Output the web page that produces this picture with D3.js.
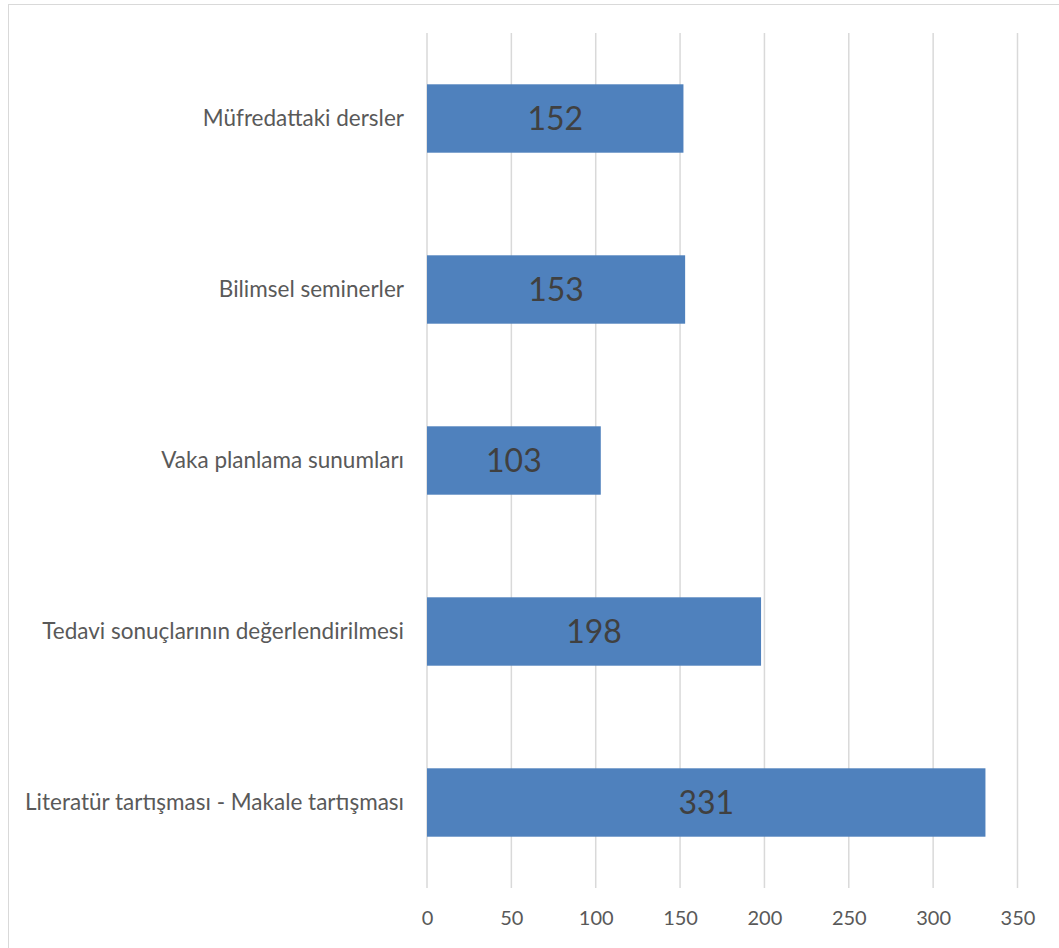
<!DOCTYPE html>
<html>
<head>
<meta charset="utf-8">
<script src="https://cdn.jsdelivr.net/npm/d3@7"></script>
<style>
  body { margin: 0; background: #fff; }
  text { font-family: Lato, "Open Sans", sans-serif; }
</style>
</head>
<body>
<div id="chart"></div>
<script>
    // data
    const categories = [
        "Müfredattaki dersler",
        "Bilimsel seminerler",
        "Vaka planlama sunumları",
        "Tedavi sonuçlarının değerlendirilmesi",
        "Literatür tartışması - Makale tartışması"
    ];
    const values = [152, 153, 103, 198, 331];
    const xTicks = [0, 50, 100, 150, 200, 250, 300, 350];

    const data = categories.map((c, i) => ({ cat: c, v: values[i] }));

    const W = 1059, H = 948;
    const plot = { left: 427, right: 1017.5, top: 33, bottom: 888 };

    const svg = d3.select("#chart").append("svg")
        .attr("width", W)
        .attr("height", H);

    // outer chart frame
    svg.append("rect")
        .attr("x", 8.5).attr("y", 4.5)
        .attr("width", W + 10).attr("height", H + 10)
        .attr("fill", "none")
        .attr("stroke", "#d9d9d9")
        .attr("stroke-width", 1);

    const x = d3.scaleLinear()
        .domain([0, 350])
        .range([plot.left, plot.right]);

    const y = d3.scaleBand()
        .domain(categories)
        .range([plot.top, plot.bottom])
        .paddingInner(0.6)
        .paddingOuter(0.3);

    // vertical gridlines
    svg.selectAll(".grid")
        .data(xTicks)
        .enter()
        .append("line")
            .attr("class", "grid")
            .attr("x1", d => x(d))
            .attr("x2", d => x(d))
            .attr("y1", plot.top)
            .attr("y2", plot.bottom)
            .attr("stroke", "#d9d9d9")
            .attr("stroke-width", 1.5);

    // bars
    svg.selectAll(".bar")
        .data(data)
        .enter()
        .append("rect")
            .attr("class", "bar")
            .attr("x", x(0))
            .attr("y", d => y(d.cat))
            .attr("width", d => x(d.v) - x(0))
            .attr("height", y.bandwidth())
            .attr("fill", "#4f81bd");

    // value labels inside bars
    svg.selectAll(".val")
        .data(data)
        .enter()
        .append("text")
            .attr("class", "val")
            .attr("x", d => (x(0) + x(d.v)) / 2)
            .attr("y", d => y(d.cat) + y.bandwidth() / 2)
            .attr("dy", "0.36em")
            .attr("text-anchor", "middle")
            .attr("fill", "#404040")
            .style("font-size", "32px")
            .text(d => d.v);

    // y axis (category labels)
    svg.append("g")
        .attr("transform", `translate(${plot.left},0)`)
        .call(d3.axisLeft(y).tickSize(0).tickPadding(23))
        .call(g => g.select(".domain").remove())
        .call(g => g.selectAll("text")
            .attr("fill", "#595959")
            .style("font-size", "22.5px")
            .style("font-family", "Lato, 'Open Sans', sans-serif"));

    // x axis
    svg.append("g")
        .attr("transform", `translate(0,${plot.bottom})`)
        .call(d3.axisBottom(x).tickValues(xTicks).tickSize(0).tickPadding(23))
        .call(g => g.select(".domain").remove())
        .call(g => g.selectAll("text")
            .attr("fill", "#595959")
            .style("font-size", "20px")
            .style("font-family", "Lato, 'Open Sans', sans-serif"));
</script>
</body>
</html>
